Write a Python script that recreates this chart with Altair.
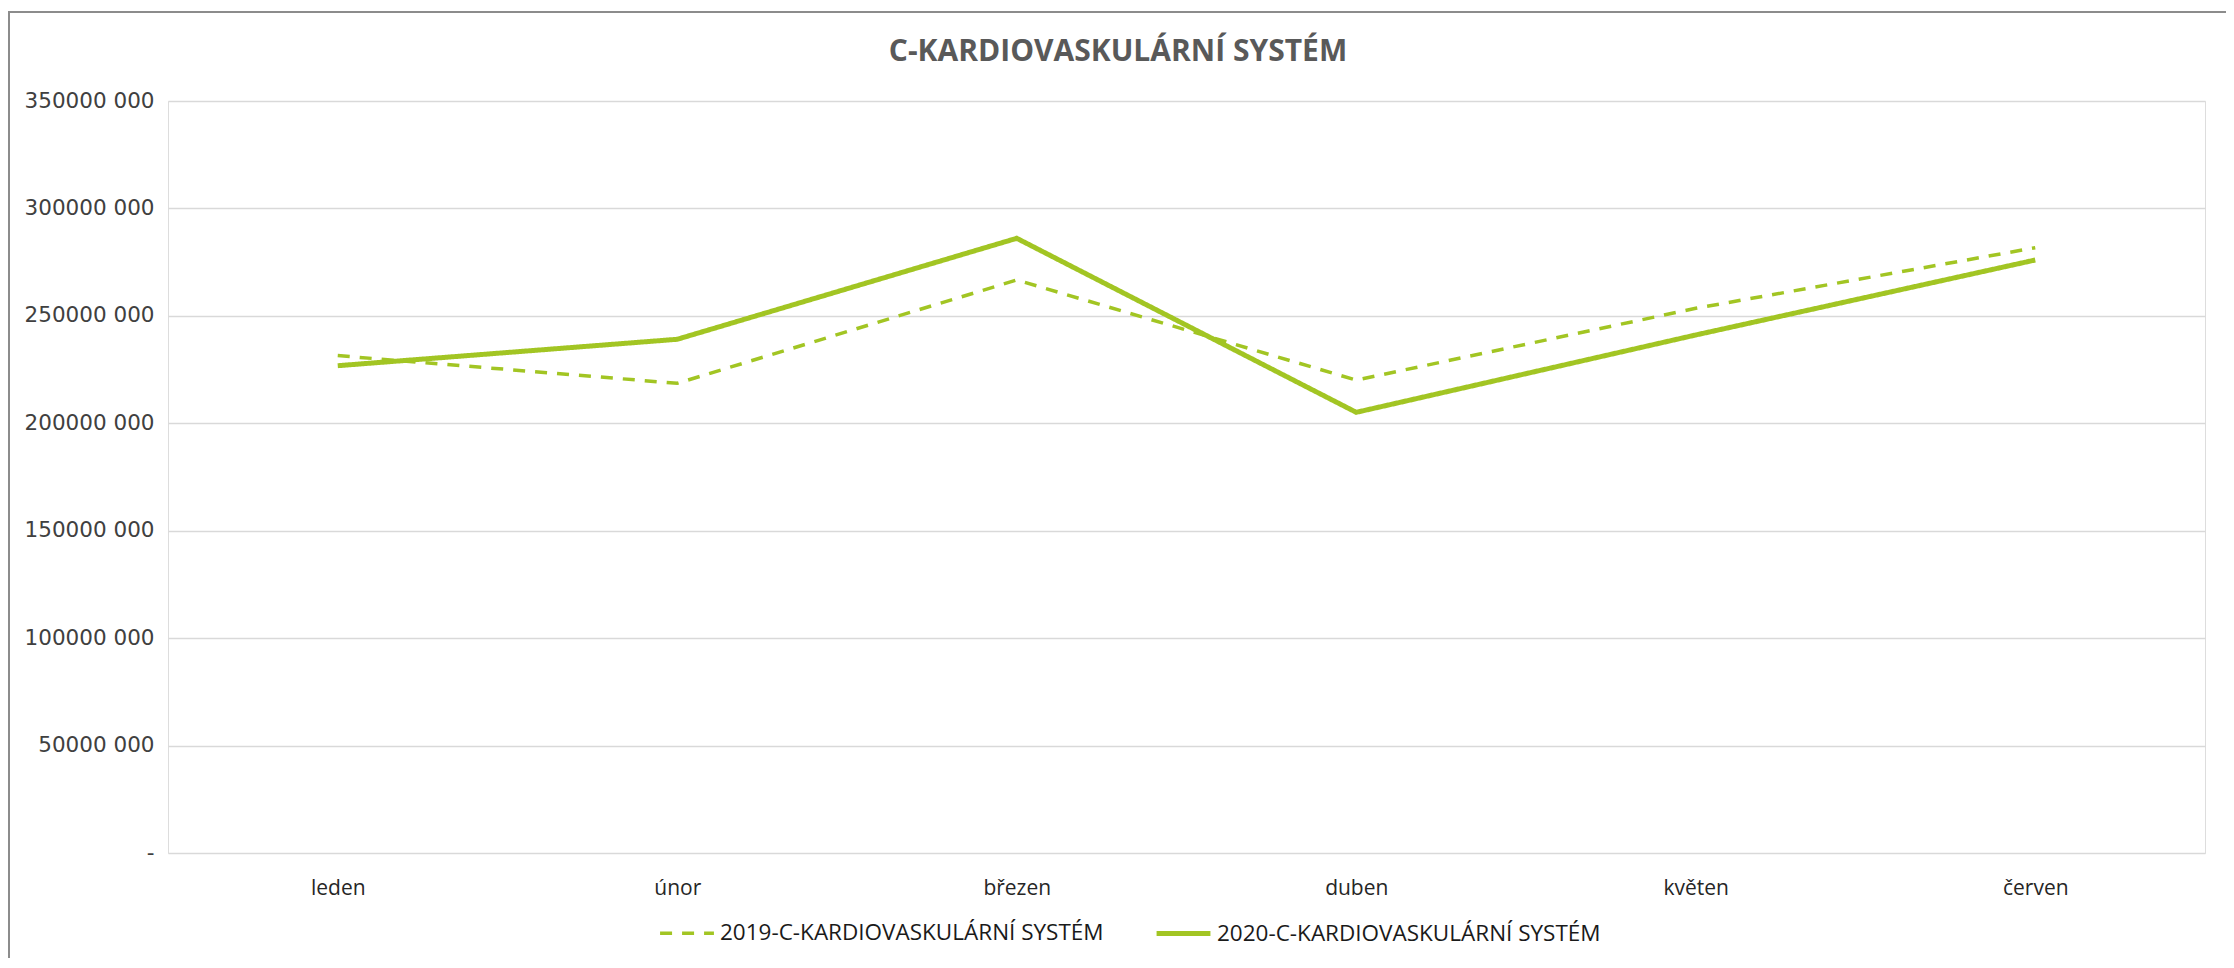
import altair as alt
import pandas as pd

months = ["leden", "únor", "březen", "duben", "květen", "červen"]
series_2019 = [231500000, 218600000, 266700000, 220100000, 253500000, 281700000]
series_2020 = [226800000, 239100000, 286100000, 205100000, 241100000, 276000000]
series_names = ["2019-C-KARDIOVASKULÁRNÍ SYSTÉM", "2020-C-KARDIOVASKULÁRNÍ SYSTÉM"]
y_ticks = [0, 50000000, 100000000, 150000000, 200000000, 250000000, 300000000, 350000000]
title_text = ["C-KARDIOVASKULÁRNÍ SYSTÉM"]

rows = []
for m, v in zip(months, series_2019):
    rows.append({"mesic": m, "hodnota": v, "rada": series_names[0]})
for m, v in zip(months, series_2020):
    rows.append({"mesic": m, "hodnota": v, "rada": series_names[1]})
df = pd.DataFrame(rows)

GREEN = "#A2C523"
W, H = 2037, 752

lines = alt.Chart(df).mark_line().encode(
    x=alt.X("mesic:N", sort=months, scale=alt.Scale(padding=0.5),
            axis=alt.Axis(title=None, labelAngle=0, domain=False, ticks=False, grid=False,
                          labelFont="Open Sans", labelFontSize=21, labelColor="#262626", labelPadding=24)),
    y=alt.Y("hodnota:Q", scale=alt.Scale(domain=[0, 350000000], nice=False),
            axis=alt.Axis(title=None, values=y_ticks, domain=False, ticks=False,
                          gridColor="#d9d9d9", gridWidth=1.5,
                          labelFont="DejaVu Sans", labelFontSize=21.5, labelColor="#404040", labelPadding=14,
                          labelExpr="datum.value == 0 ? '-' : format(floor(datum.value/1000), 'd') + ' ' + format(datum.value % 1000, '03d')")),
    color=alt.Color("rada:N", scale=alt.Scale(domain=series_names, range=[GREEN, GREEN]),
                    legend=alt.Legend(title=None, orient="none", direction="horizontal",
                                      legendX=490, legendY=803, symbolType="stroke",
                                      symbolSize=2900, labelFont="Open Sans", labelFontSize=22.5,
                                      labelColor="#1a1a1a", labelOffset=4, columnPadding=42,
                                      symbolStrokeWidth=4, labelLimit=700, padding=0)),
    strokeDash=alt.StrokeDash("rada:N", scale=alt.Scale(domain=series_names, range=[[12, 10], [1, 0]]),
                              legend=None),
    strokeWidth=alt.StrokeWidth("rada:N", scale=alt.Scale(domain=series_names, range=[3.5, 5]), legend=None),
)

title_df = pd.DataFrame({"t": title_text})
title_mark = alt.Chart(title_df).mark_text(
    font="Open Sans", fontSize=30, fontWeight="bold", color="#595959", align="center", baseline="middle"
).encode(text="t:N", x=alt.value(950), y=alt.value(-49))

border_df = pd.DataFrame({"k": [0]})
top_border = alt.Chart(border_df).mark_rule(color="#8c8c8c", strokeWidth=2).encode(
    x=alt.value(-160), x2=alt.value(W + 21), y=alt.value(-89)
)
left_border = alt.Chart(border_df).mark_rule(color="#8c8c8c", strokeWidth=2).encode(
    x=alt.value(-159), y=alt.value(-89), y2=alt.value(H + 105)
)

chart = alt.layer(lines, title_mark, top_border, left_border).properties(
    width=W, height=H,
    autosize=alt.AutoSizeParams(type="none"),
    padding={"left": 160, "top": 93, "right": 21, "bottom": 105},
).configure_view(stroke=None).configure(background="white")

chart.save("out.html", embed_options={"renderer": "svg", "actions": False})
